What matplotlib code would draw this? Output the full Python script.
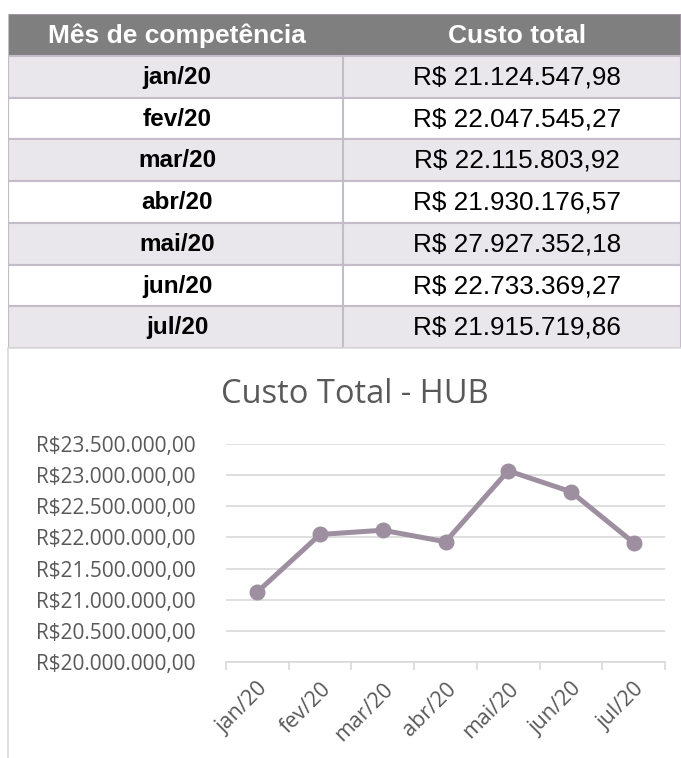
import matplotlib
matplotlib.use('Agg')
import matplotlib.pyplot as plt
from matplotlib.patches import Rectangle
from matplotlib.ticker import FuncFormatter, FixedLocator

# Dados da tabela
meses = ['jan/20', 'fev/20', 'mar/20', 'abr/20', 'mai/20', 'jun/20', 'jul/20']
custos_tabela = ['R$ 21.124.547,98', 'R$ 22.047.545,27', 'R$ 22.115.803,92',
                 'R$ 21.930.176,57', 'R$ 27.927.352,18', 'R$ 22.733.369,27',
                 'R$ 21.915.719,86']
cabecalho = ['Mês de competência', 'Custo total']

# Valores do gráfico
custos_grafico = [21124548, 22047545, 22115804, 21930177, 23070000, 22733369, 21915720]
y_ticks = [20000000, 20500000, 21000000, 21500000, 22000000, 22500000, 23000000, 23500000]

W, H = 681, 758
fig = plt.figure(figsize=(W / 100, H / 100), dpi=100)

# ---------- Tabela ----------
tab_left, tab_top, tab_bottom = 8, 14, 348
col_div = 343
x_esq, x_dir = 177, 517
tab = fig.add_axes([tab_left / W, 1 - tab_bottom / H, 1 - tab_left / W, (tab_bottom - tab_top) / H])
tab.set_xlim(tab_left, W)
n_rows = len(meses) + 1
tab.set_ylim(n_rows, 0)
tab.axis('off')

border = '#c4bcc8'
tab.add_patch(Rectangle((tab_left, 0), W - tab_left, 1, facecolor='#7f7f7f',
                        edgecolor='#a395a6', linewidth=1.5))
tab.text(x_esq, 0.52, cabecalho[0], ha='center', va='center',
         color='white', fontweight='bold', fontsize=19, family='Liberation Sans')
tab.text(x_dir, 0.52, cabecalho[1], ha='center', va='center',
         color='white', fontweight='bold', fontsize=19, family='Liberation Sans')

for i, (m, c) in enumerate(zip(meses, custos_tabela)):
    r = i + 1
    fc = '#e9e7eb' if i % 2 == 0 else 'white'
    tab.add_patch(Rectangle((tab_left, r), W - tab_left, 1, facecolor=fc,
                            edgecolor=border, linewidth=1.5))
    tab.text(x_esq, r + 0.52, m, ha='center', va='center',
             color='black', fontweight='bold', fontsize=17.5, family='Liberation Sans')
    tab.text(x_dir, r + 0.52, c, ha='center', va='center',
             color='black', fontsize=18.8, family='Liberation Sans')
tab.plot([col_div, col_div], [1, n_rows], color=border, lw=1.5)
tab.plot([tab_left, tab_left], [0, n_rows], color=border, lw=1.5)

# ---------- Borda do gráfico ----------
fig.add_artist(Rectangle((tab_left / W, -0.01), 1.0, 1 - tab_bottom / H + 0.01,
                         transform=fig.transFigure, facecolor='none',
                         edgecolor='#d9d9d9', linewidth=1.2))

# ---------- Gráfico ----------
ax_l, ax_r, ax_b, ax_t = 226, 665, 662, 444
ax = fig.add_axes([ax_l / W, 1 - ax_b / H, (ax_r - ax_l) / W, (ax_b - ax_t) / H])
x = list(range(len(meses)))
cor = '#9e8fa0'
ax.plot(x, custos_grafico, color=cor, linewidth=3.6, marker='o', markersize=10.5,
        solid_joinstyle='round', zorder=3)

ax.set_xlim(-0.5, len(meses) - 0.5)
ax.set_ylim(y_ticks[0], y_ticks[-1])
ax.set_yticks(y_ticks)
ax.yaxis.set_major_formatter(FuncFormatter(
    lambda v, p: 'R$' + f'{v:,.2f}'.replace(',', 'X').replace('.', ',').replace('X', '.')))
ax.set_xticks(x)
ax.set_xticklabels(meses, rotation=45, ha='right', rotation_mode='anchor')
ax.xaxis.set_minor_locator(FixedLocator([i - 0.5 for i in range(len(meses) + 1)]))
ax.tick_params(axis='x', which='major', length=0, pad=12, labelsize=15.5, labelcolor='#595959')
ax.tick_params(axis='x', which='minor', length=6, color='#d9d9d9', width=1.2)
ax.tick_params(axis='y', length=0, pad=22, labelsize=15, labelcolor='#595959')
for lab in ax.get_xticklabels() + ax.get_yticklabels():
    lab.set_family('Open Sans')

ax.grid(axis='y', color='#d9d9d9', linewidth=1.2)
ax.set_axisbelow(True)
for s in ['top', 'right', 'left']:
    ax.spines[s].set_visible(False)
ax.spines['bottom'].set_color('#d9d9d9')
ax.spines['bottom'].set_linewidth(1.2)

fig.text(355 / W, 1 - 403 / H, 'Custo Total - HUB', ha='center', va='baseline',
         fontsize=23.5, color='#595959', family='Open Sans')

fig.savefig('out.png', dpi=100)
